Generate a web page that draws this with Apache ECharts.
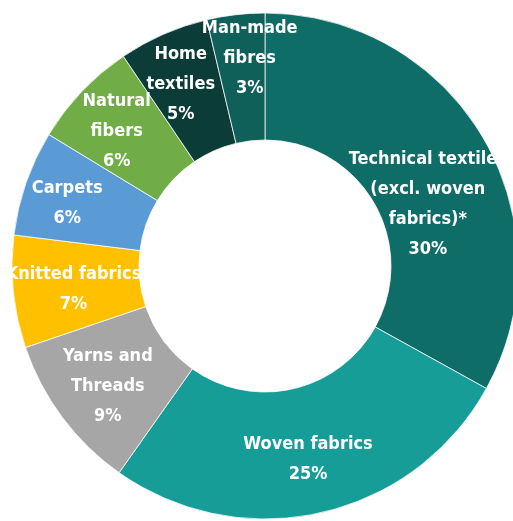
<!DOCTYPE html>
<html>
<head>
<meta charset="utf-8">
<script src="https://cdn.jsdelivr.net/npm/echarts@6/dist/echarts.min.js"></script>
<style>
html,body{margin:0;padding:0;background:#fff;}
#chart{width:513px;height:521px;}
</style>
</head>
<body>
<div id="chart"></div>
<script>
// Categories (clockwise from 12 o'clock)
var categories = [
  'Technical textiles\n(excl. woven\nfabrics)*',
  'Woven fabrics',
  'Yarns and\nThreads',
  'Knitted fabrics',
  'Carpets',
  'Natural\nfibers',
  'Home\ntextiles',
  'Man-made\nfibres'
];
// Shares (%); labels show rounded values
var shares = [30.4, 24.6, 9.2, 6.6, 6.2, 6.3, 5.3, 3.4];

var colors = ['#0f6d67', '#179d97', '#a6a6a6', '#ffc000', '#5b9bd5', '#70ad47', '#0b3c37', '#10605a'];
// small label nudges (px) relative to the default inside position
var labelNudge = [[-3, 36], [0, 6], [-3, 5], [0, 4], [-16, 1], [-9, -2], [-7, -5], [7, -16]];

var data = categories.map(function (c, i) {
  return { name: c, value: shares[i], itemStyle: { color: colors[i] } };
});

var chart = echarts.init(document.getElementById('chart'), null, { renderer: 'canvas' });
chart.setOption({
  animation: false,
  series: [{
    type: 'pie',
    center: [265, 266],
    radius: [126, 253],
    startAngle: 90,
    clockwise: true,
    avoidLabelOverlap: false,
    silent: true,
    itemStyle: { borderColor: 'rgba(255,255,255,0.75)', borderWidth: 1 },
    label: {
      show: true,
      position: 'inside',
      color: '#ffffff',
      fontFamily: '"Liberation Sans Narrow", "DejaVu Sans Condensed", "Open Sans", sans-serif',
      fontWeight: 'bold',
      fontSize: 18,
      lineHeight: 30,
      align: 'center',
      formatter: function (p) { return p.name + '\n' + Math.round(p.value) + '%'; }
    },
    labelLine: { show: false },
    labelLayout: function (p) {
      var n = labelNudge[p.dataIndex];
      return { dx: n[0], dy: n[1] };
    },
    data: data
  }]
});
</script>
</body>
</html>
